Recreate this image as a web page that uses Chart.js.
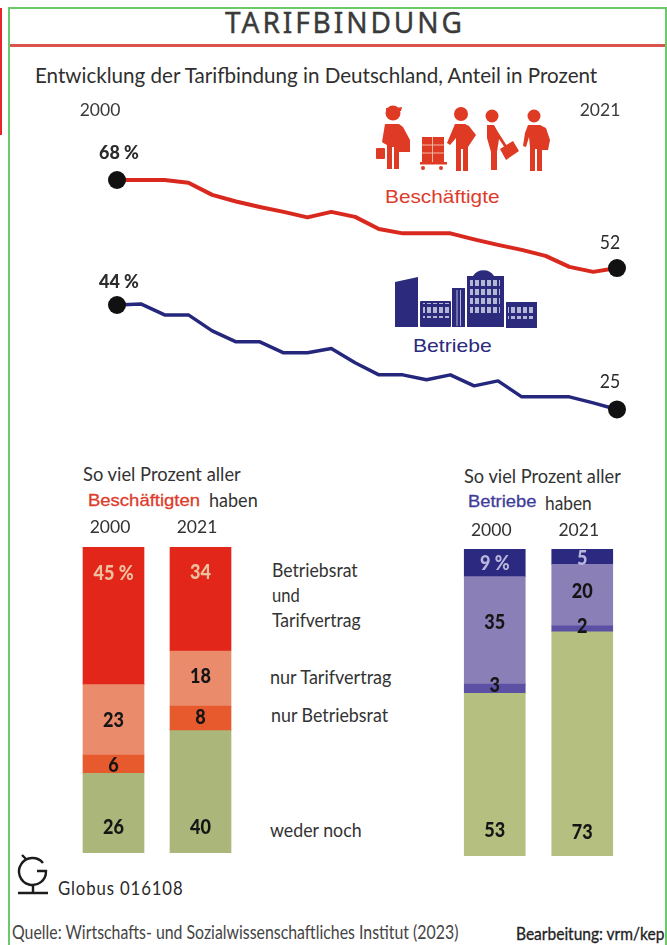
<!DOCTYPE html>
<html lang="de">
<head>
<meta charset="utf-8">
<title>Tarifbindung</title>
<script src="https://cdn.jsdelivr.net/npm/chart.js@4"></script>
<style>
  html, body { margin: 0; padding: 0; background: #fff; }
  #page { position: relative; width: 667px; height: 945px; overflow: hidden; font-family: Lato, sans-serif; color: #333; }
  #page canvas, #page svg { position: absolute; }
  .t { position: absolute; white-space: nowrap; line-height: 1; transform-origin: left top; }
  .frame { position: absolute; background: #6cc96a; }
  .label { font-size: 19.5px; color: #333; }
  .arial { font-family: "Liberation Sans", sans-serif; }
</style>
</head>
<body>
<div id="page">
  <div class="frame" style="left:8px;top:7px;width:1.5px;height:938px"></div>
  <div class="frame" style="left:8px;top:7px;width:659px;height:1.5px"></div>
  <div class="frame" style="left:665px;top:7px;width:1.5px;height:938px"></div>
  <div style="position:absolute;left:0;top:8px;width:2px;height:127px;background:#e8262a"></div>
  <div style="position:absolute;left:10px;top:44px;width:655px;height:3px;background:#d9534f"></div>

  <div class="t" data-w="240" style="left:225px;top:7px;font-size:29px;letter-spacing:3px;color:#3a3a3a;-webkit-text-stroke:0.4px #3a3a3a;font-family:'Noto Sans',sans-serif">TARIFBINDUNG</div>
  <div class="t" data-w="562" style="left:35px;top:64px;font-size:21px;color:#2f2f2f">Entwicklung der Tarifbindung in Deutschland, Anteil in Prozent</div>

  <!-- workers -->
  <svg style="left:370px;top:100px" width="190" height="80" viewBox="370 100 190 80" fill="#df3a24">
    <circle cx="393" cy="113" r="7.500"/><path d="M386 108h10l6-1-1 4h-15z"/>
    <path d="M385 124h14l4 3 7 13v12h-11v17h-5v-22h-2v22h-5v-24l-2-1-3-2z"/>
    <rect x="376" y="148" width="9" height="11" rx="1"/>
    <path d="M422 137h22v25h-22z"/><rect x="420" y="162" width="27" height="2.500"/>
    <path d="M422 145h22M422 153h22M432.500 137v25" stroke="#f3b7a8" stroke-width="1"/>
    <circle cx="423" cy="168" r="2"/><circle cx="441" cy="168" r="2"/>
    <circle cx="461" cy="114" r="7"/>
    <path d="M455 124h10l4 2 7 9-8 12v24h-5v-22h-2v22h-5v-33l-6 7-3-2z"/>
    <circle cx="492" cy="116" r="6.500"/>
    <path d="M487 125h7l4 7 9 14-2 2-6-9-2 13v18h-6v-18l-4-14z"/>
    <path d="M500 149l13-8 6 10-13 9z"/>
    <circle cx="534" cy="116" r="6.500"/>
    <path d="M528 125h12l6 3 4 12-2 10h-6v21h-5v-22h-2v22h-5v-24l-1-10-3 10-3-1 2-13z"/>
  </svg>
  <div class="t arial" data-w="115" style="left:385px;top:187px;font-size:19px;color:#dd3b2b">Beschäftigte</div>

  <!-- company buildings -->
  <svg style="left:390px;top:260px" width="155" height="72" viewBox="390 260 155 72">
    <defs>
      <pattern id="win" width="6" height="9" patternUnits="userSpaceOnUse" x="0" y="0">
        <rect x="1" y="1" width="4" height="6" fill="#b4b6d6"/>
      </pattern>
    </defs>
    <g fill="#2b2a7c">
      <path d="M395 282l23-5v50h-23z"/>
      <rect x="420" y="301" width="31" height="26" rx="1"/>
      <rect x="452" y="288" width="13" height="39"/>
      <path d="M467 276h6a12 11 0 0 1 21 0h10v51h-37z"/>
      <rect x="506" y="302" width="31" height="26"/>
    </g>
    <rect x="423" y="303" width="27" height="15" fill="url(#win)"/>
    <rect x="470" y="280" width="30" height="36" fill="url(#win)"/>
    <rect x="508" y="304" width="27" height="15" fill="url(#win)"/>
    <path d="M457 290v36M460.500 290v36" stroke="#b4b6d6" stroke-width="1"/>
  </svg>
  <div class="t arial" data-w="79" style="left:413px;top:336px;font-size:19px;color:#2b2a7c">Betriebe</div>

  <canvas id="verlauf" width="667" height="330" style="left:0;top:100px"></canvas>

  <div class="t label" data-w="158" style="left:83px;top:464px">So viel Prozent aller</div>
  <div class="t arial" data-w="112" style="left:88px;top:492px;font-size:17px;-webkit-text-stroke:0.3px #dd3b2b;color:#dd3b2b">Beschäftigten</div>
  <div class="t label" data-w="49" style="left:209px;top:490px">haben</div>
  <canvas id="beschaeftigte" width="174" height="338" style="left:70px;top:515px"></canvas>

  <div class="t label" data-w="86" style="left:272px;top:560px">Betriebsrat</div>
  <div class="t label" data-w="28" style="left:272px;top:585px">und</div>
  <div class="t label" data-w="89" style="left:272px;top:610px">Tarifvertrag</div>
  <div class="t label" data-w="121" style="left:270px;top:667px">nur Tarifvertrag</div>
  <div class="t label" data-w="117" style="left:271px;top:705px">nur Betriebsrat</div>
  <div class="t label" data-w="92" style="left:270px;top:820px">weder noch</div>

  <div class="t label" data-w="157" style="left:464px;top:466px">So viel Prozent aller</div>
  <div class="t arial" data-w="68" style="left:468px;top:493px;font-size:17px;-webkit-text-stroke:0.3px #3f3d9a;color:#3f3d9a">Betriebe</div>
  <div class="t label" data-w="47" style="left:545px;top:493px">haben</div>
  <canvas id="betriebe" width="175" height="337" style="left:451px;top:519px"></canvas>

  <!-- Globus logo -->
  <svg style="left:14px;top:852px" width="40" height="44" viewBox="14 852 40 44" fill="none" stroke="#1c1c1c" stroke-width="2.400">
    <path d="M43 863a13.500 13.500 0 1 0 3 8h-9"/>
    <path d="M33 885v8M18 893h30M22 855l4 4"/>
  </svg>
  <div class="t" data-w="126" style="left:58px;top:878px;font-size:19px;letter-spacing:1px;color:#2a2a2a">Globus 016108</div>
  <div class="t" data-w="446" style="left:12px;top:923px;font-size:18.500px;color:#444">Quelle: Wirtschafts- und Sozialwissenschaftliches Institut (2023)</div>
  <div class="t" data-w="148" style="left:516px;top:925px;font-size:17px;color:#222;-webkit-text-stroke:0.3px #222">Bearbeitung: vrm/kep</div>
</div>

<script>
// Tarifbindung 2000-2021, Anteil in Prozent
const years = ['2000','2001','2002','2003','2004','2005','2006','2007','2008','2009','2010',
  '2011','2012','2013','2014','2015','2016','2017','2018','2019','2020','2021'];
const beschaeftigteVerlauf = [68,68,68,67.5,65.3,64.1,63.1,62.2,61.2,62.2,61.3,59.1,58.3,58.3,58.3,57.2,56.2,55.3,54.2,52.2,51.3,52];
const betriebeVerlauf = [44,44.2,42.2,42.2,39.3,37.3,37.3,35.3,35.3,36.1,33.5,31.3,31.3,30.4,31.3,29.3,30.2,27.3,27.3,27.3,26.2,25];

const barYears = ['2000','2021'];
const weder = [26,40];
const nurBetriebsrat = [6,8];
const nurTarifvertrag = [23,18];
const beides = [45,34];

const wederB = [53,73];
const nurBetriebsratB = [3,2];
const nurTarifvertragB = [35,20];
const beidesB = [9,5];

// squeeze html text to its measured width, the page font has no condensed cut
document.querySelectorAll('.t[data-w]').forEach(el => {
  el.style.transform = 'scaleX(' + (el.dataset.w / el.offsetWidth) + ')';
});

// canvas text in a narrower cut
function narrowText(ctx, text, x, y, squeeze) {
  ctx.save();
  ctx.translate(x, y);
  ctx.scale(squeeze, 1);
  ctx.fillText(text, 0, 0);
  ctx.restore();
}

// first and last value above the line ends
const endLabels = {
  id: 'endLabels',
  afterDatasetsDraw(chart) {
    const ctx = chart.ctx;
    ctx.save();
    ctx.textAlign = 'center';
    ctx.textBaseline = 'middle';
    ctx.fillStyle = '#2b2b2b';
    chart.data.datasets.forEach((ds, i) => {
      const pts = chart.getDatasetMeta(i).data;
      const last = ds.data.length - 1;
      ctx.font = '900 19.5px Lato, sans-serif';
      narrowText(ctx, ds.data[0] + ' %', pts[0].x + 2, pts[0].y - ds.startGap, 0.92);
      ctx.font = '20px Lato, sans-serif';
      narrowText(ctx, ds.data[last], pts[last].x - 7, pts[last].y - ds.endGap, 0.88);
    });
    ctx.restore();
  }
};

new Chart(document.getElementById('verlauf'), {
  type: 'line',
  data: {
    labels: years,
    datasets: [
      { label: 'Beschäftigte', data: beschaeftigteVerlauf, yAxisID: 'yRot', borderColor: '#d9281e', borderWidth: 4, startGap: 27, endGap: 25 },
      { label: 'Betriebe', data: betriebeVerlauf, yAxisID: 'yBlau', borderColor: '#25277c', borderWidth: 3.5, startGap: 23, endGap: 28 }
    ].map(ds => ({
      ...ds,
      clip: false,
      borderJoinStyle: 'round',
      pointBackgroundColor: '#111',
      pointBorderWidth: 0,
      pointRadius: ctx => (ctx.dataIndex === 0 || ctx.dataIndex === years.length - 1) ? 9 : 0
    }))
  },
  options: {
    responsive: false,
    animation: false,
    layout: { autoPadding: false, padding: { left: 117, right: 50 } },
    plugins: { legend: { display: false }, tooltip: { enabled: false } },
    scales: {
      x: {
        position: 'top',
        offset: false,
        grid: { display: false, drawTicks: false },
        border: { display: false },
        afterFit: s => { s.height = 25; },
        ticks: {
          autoSkip: false,
          maxRotation: 0,
          padding: 4,
          labelOffset: -17,
          color: '#3a3a3a',
          font: { family: 'Lato, sans-serif', size: 17.5 },
          callback(v, i) { return (i === 0 || i === years.length - 1) ? years[i] : ''; }
        }
      },
      yRot: { display: false, min: 22.55, max: 78 },
      yBlau: { display: false, min: 21.27, max: 76.73 }
    }
  },
  plugins: [endLabels]
});

// value text inside the stacked bars, shifted away from the segment centre where needed
const barLabels = {
  id: 'barLabels',
  afterDatasetsDraw(chart, args, opts) {
    const ctx = chart.ctx;
    ctx.save();
    ctx.textAlign = 'center';
    ctx.textBaseline = 'middle';
    ctx.font = '900 21px Lato, sans-serif';
    chart.data.datasets.forEach((ds, i) => {
      chart.getDatasetMeta(i).data.forEach((bar, j) => {
        const mid = (bar.y + bar.base) / 2;
        const text = (i === 3 && j === 0) ? ds.data[j] + ' %' : ds.data[j];
        ctx.fillStyle = ds.labelColor;
        narrowText(ctx, text, bar.x, mid + opts.shift[i][j], 0.86);
      });
    });
    ctx.restore();
  }
};

function stackedBars(id, sets, colors, labelColor, shift, headerHeight, tickPadding) {
  new Chart(document.getElementById(id), {
    type: 'bar',
    data: {
      labels: barYears,
      datasets: sets.map((data, i) => ({
        data,
        backgroundColor: colors[i],
        barThickness: 61,
        labelColor: i === 3 ? labelColor : '#151515'
      }))
    },
    options: {
      responsive: false,
      animation: false,
      plugins: { legend: { display: false }, tooltip: { enabled: false }, barLabels: { shift } },
      scales: {
        x: {
          stacked: true,
          position: 'top',
          grid: { display: false, drawTicks: false },
          border: { display: false },
          afterFit: s => { s.height = headerHeight; },
          ticks: { padding: tickPadding, labelOffset: -3.5, color: '#333', font: { family: 'Lato, sans-serif', size: 17.5 } }
        },
        y: { stacked: true, display: false, min: 0, max: 100 }
      }
    },
    plugins: [barLabels]
  });
}

stackedBars('beschaeftigte', [weder, nurBetriebsrat, nurTarifvertrag, beides],
  ['#aab67a', '#e75a2e', '#ea8c6c', '#e3261a'], '#eec0a0',
  [[14, 35], [1, -1], [0, -2], [-43, -27]], 32, 9);

stackedBars('betriebe', [wederB, nurBetriebsratB, nurTarifvertragB, beidesB],
  ['#b4bf80', '#5b50a4', '#8b7fb8', '#2c2a80'], '#b9b6dc',
  [[56, 88], [-3, -3], [-8, -4], [0, 2]], 30, 8);
</script>
</body>
</html>
